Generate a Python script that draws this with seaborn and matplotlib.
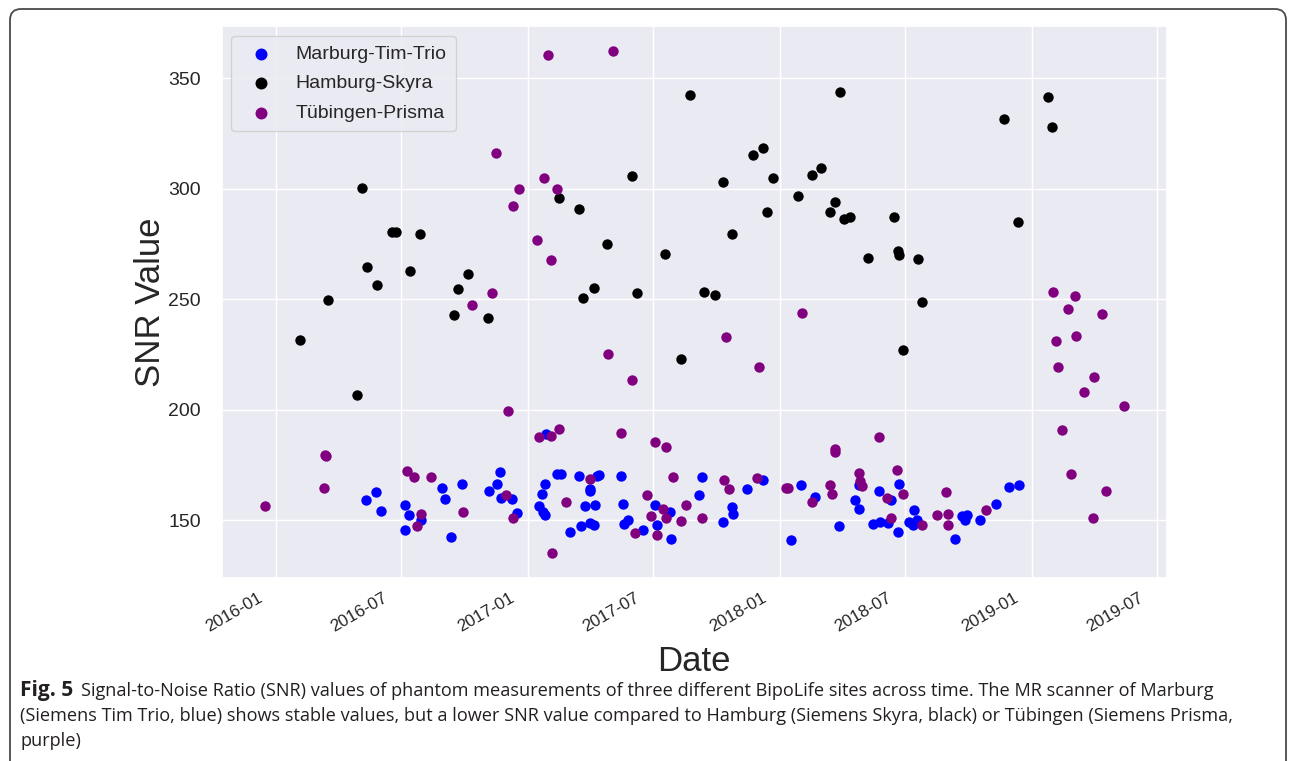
import numpy as np
import pandas as pd
import matplotlib
matplotlib.use("Agg")
import matplotlib.pyplot as plt
import matplotlib.dates as mdates
from matplotlib.patches import FancyBboxPatch
from matplotlib.transforms import IdentityTransform, ScaledTranslation
import seaborn as sns

# ---------------- data ----------------
site_names = ["Marburg-Tim-Trio", "Hamburg-Skyra", "Tübingen-Prisma"]
site_colors = ["blue", "black", "purple"]

marburg_dates = [
    "2016-05-11", "2016-05-26", "2016-06-01", "2016-07-07", "2016-07-12", "2016-07-06", "2016-07-29",
    "2016-08-29", "2016-09-03", "2016-09-27", "2016-09-11", "2016-11-05", "2016-11-16", "2016-11-21",
    "2016-11-23", "2016-12-08", "2016-12-16", "2017-01-27", "2017-02-11", "2017-02-17", "2017-01-26",
    "2017-01-21", "2017-01-17", "2017-01-22", "2017-01-26", "2017-03-16", "2017-03-02", "2017-03-18",
    "2017-03-31", "2017-04-01", "2017-03-24", "2017-04-08", "2017-04-10", "2017-04-14", "2017-04-01",
    "2017-04-06", "2017-05-16", "2017-05-18", "2017-05-20", "2017-05-25", "2017-06-16", "2017-07-04",
    "2017-07-07", "2017-07-26", "2017-07-27", "2017-09-06", "2017-09-10", "2017-10-10", "2017-10-24",
    "2017-10-25", "2017-11-14", "2017-12-07", "2018-01-17", "2018-01-31", "2018-02-21", "2018-03-27",
    "2018-04-19", "2018-04-25", "2018-04-26", "2018-05-24", "2018-06-22", "2018-06-10", "2018-05-15",
    "2018-05-26", "2018-06-07", "2018-06-21", "2018-07-07", "2018-07-12", "2018-07-18", "2018-07-14",
    "2018-09-12", "2018-09-21", "2018-09-29", "2018-09-26", "2018-10-18", "2018-11-10", "2018-11-28",
    "2018-12-13",
]
marburg_snr = [
    159.1, 162.8, 154.4, 157.1, 152.3, 145.5, 150.3, 164.6, 159.5, 166.5,
    142.5, 163.4, 166.5, 171.8, 160.1, 159.5, 153.3, 189.1, 171.1, 171.1,
    166.5, 162.0, 156.5, 153.8, 152.3, 170.3, 144.8, 147.5, 164.3, 163.5,
    156.3, 156.8, 170.3, 170.6, 148.8, 148.1, 170.3, 157.5, 148.5, 150.0,
    145.5, 157.1, 147.8, 153.8, 141.7, 161.6, 169.8, 149.3, 156.0, 153.0,
    164.0, 168.4, 141.0, 165.8, 160.8, 147.5, 159.1, 155.3, 166.0, 163.4,
    166.5, 159.1, 148.5, 149.3, 149.0, 144.8, 149.5, 148.1, 150.3, 154.5,
    141.7, 151.8, 152.6, 150.0, 150.0, 157.5, 165.1, 165.8,
]

hamburg_dates = [
    "2016-02-05", "2016-03-17", "2016-04-28", "2016-05-05", "2016-05-13", "2016-05-27", "2016-06-17",
    "2016-06-23", "2016-07-13", "2016-07-28", "2016-09-15", "2016-09-21", "2016-10-05", "2016-11-03",
    "2017-02-15", "2017-03-16", "2017-03-22", "2017-04-06", "2017-04-25", "2017-05-31", "2017-06-08",
    "2017-07-18", "2017-08-10", "2017-08-23", "2017-09-13", "2017-09-28", "2017-10-10", "2017-10-24",
    "2017-11-22", "2017-12-07", "2017-12-13", "2017-12-21", "2018-01-27", "2018-02-16", "2018-03-01",
    "2018-03-15", "2018-03-21", "2018-03-29", "2018-04-04", "2018-04-13", "2018-05-09", "2018-06-15",
    "2018-06-21", "2018-06-22", "2018-06-28", "2018-07-20", "2018-07-26", "2018-11-22", "2018-12-12",
    "2019-01-24", "2019-01-30",
]
hamburg_snr = [
    231.6, 249.5, 206.7, 300.3, 264.7, 256.4, 280.6, 280.6, 262.9, 279.3,
    242.7, 254.6, 261.5, 241.7, 295.8, 290.8, 250.7, 255.2, 274.9, 305.5,
    252.7, 270.4, 223.2, 342.4, 253.2, 252.1, 302.8, 279.3, 315.0, 318.3,
    289.5, 304.8, 296.5, 306.2, 309.3, 289.5, 294.0, 343.7, 286.5, 287.1,
    268.6, 287.1, 272.0, 270.2, 227.1, 268.0, 248.7, 331.6, 285.1, 341.6,
    327.8,
]

tuebingen_dates = [
    "2015-12-16", "2016-03-13", "2016-03-14", "2016-03-11", "2016-07-09", "2016-07-20", "2016-08-13",
    "2016-07-30", "2016-07-24", "2016-09-29", "2016-10-11", "2016-11-09", "2016-11-15", "2016-11-30",
    "2016-12-03", "2016-12-10", "2016-12-10", "2016-12-18", "2017-01-14", "2017-01-17", "2017-01-24",
    "2017-01-30", "2017-02-03", "2017-02-03", "2017-02-05", "2017-02-12", "2017-02-15", "2017-02-25",
    "2017-04-01", "2017-04-27", "2017-05-04", "2017-05-16", "2017-05-31", "2017-06-04", "2017-06-22",
    "2017-06-28", "2017-07-04", "2017-07-06", "2017-07-15", "2017-07-19", "2017-07-20", "2017-07-30",
    "2017-08-11", "2017-08-18", "2017-09-10", "2017-10-12", "2017-10-15", "2017-10-19", "2017-11-28",
    "2017-12-01", "2018-01-10", "2018-01-13", "2018-02-02", "2018-02-16", "2018-03-15", "2018-03-17",
    "2018-03-21", "2018-03-22", "2018-04-25", "2018-04-27", "2018-04-29", "2018-05-24", "2018-06-19",
    "2018-06-28", "2018-06-05", "2018-06-10", "2018-07-26", "2018-08-30", "2018-08-17", "2018-09-01",
    "2018-09-02", "2018-10-26", "2019-02-01", "2019-02-05", "2019-02-07", "2019-02-13", "2019-02-22",
    "2019-02-26", "2019-03-04", "2019-03-06", "2019-03-18", "2019-03-31", "2019-04-01", "2019-04-12",
    "2019-04-18", "2019-05-14",
]
tuebingen_snr = [
    156.3, 179.5, 178.9, 164.6, 172.3, 169.6, 169.6, 153.0, 147.5, 153.8,
    247.4, 252.7, 316.2, 161.3, 199.6, 292.0, 151.2, 299.7, 276.9, 187.6,
    304.8, 360.3, 267.9, 188.3, 135.3, 299.7, 191.3, 158.3, 168.5, 225.3,
    362.2, 189.5, 213.6, 144.3, 161.3, 151.8, 185.6, 143.6, 155.3, 183.1,
    151.1, 169.6, 149.9, 157.1, 151.2, 168.4, 232.8, 164.0, 169.1, 219.3,
    164.6, 164.6, 243.6, 158.3, 166.1, 162.0, 182.3, 181.1, 171.4, 167.6,
    165.5, 187.6, 172.9, 162.0, 160.1, 151.2, 148.1, 162.8, 152.3, 153.0,
    147.8, 154.5, 253.2, 231.0, 219.3, 190.8, 245.6, 171.1, 251.4, 233.4,
    207.9, 151.2, 214.8, 243.2, 163.3, 201.6,
]

y_ticks = [150, 200, 250, 300, 350]
x_label = "Date"
y_label = "SNR Value"
caption_bold = "Fig. 5"
caption_lines = [
    "Signal-to-Noise Ratio (SNR) values of phantom measurements of three different BipoLife sites across time. The MR scanner of Marburg",
    "(Siemens Tim Trio, blue) shows stable values, but a lower SNR value compared to Hamburg (Siemens Skyra, black) or Tübingen (Siemens Prisma,",
    "purple)",
]

# ---------------- figure ----------------
sns.set_theme(style="darkgrid")
plt.rcParams["font.family"] = ["Liberation Sans", "DejaVu Sans"]

W, H = 1295, 761
fig = plt.figure(figsize=(W / 100, H / 100), dpi=100)
fig.patch.set_facecolor("white")

ax_l, ax_r, ax_t, ax_b = 221.7, 1166.7, 26.0, 578.0
ax_w, ax_h = ax_r - ax_l, ax_b - ax_t
ax = fig.add_axes([ax_l / W, 1 - ax_b / H, ax_w / W, ax_h / H])

all_dates = [marburg_dates, hamburg_dates, tuebingen_dates]
all_snr = [marburg_snr, hamburg_snr, tuebingen_snr]
for name, col, d, v in zip(site_names, site_colors, all_dates, all_snr):
    df = pd.DataFrame({"Date": pd.to_datetime(d), "SNR": v})
    sns.scatterplot(data=df, x="Date", y="SNR", color=col, s=56, linewidth=0,
                    label=name, legend=False, ax=ax)

ax.set_yticks(y_ticks)
ax.xaxis.set_major_locator(mdates.MonthLocator(bymonth=[1, 7]))
ax.xaxis.set_major_formatter(mdates.DateFormatter("%Y-%m"))
ax.tick_params(axis="y", labelsize=14, pad=9, colors=".15")
ax.tick_params(axis="x", labelsize=12.3, pad=3, colors=".15")

ax.set_xlabel(x_label, fontsize=25, color=".15")
ax.set_ylabel(y_label, fontsize=25, color=".15")
ax.xaxis.set_label_coords(0.5, (ax_b - 645) / ax_h)
ax.yaxis.set_label_coords((167 - ax_l) / ax_w, 0.5)

leg = ax.legend(loc="upper left", fontsize=14, scatterpoints=1, markerscale=1.15,
                labelspacing=0.6, borderpad=0.5)
for t in leg.get_texts():
    t.set_color(".15")

# rotate date labels and nudge them a little to the left, as in the reference
fig.canvas.draw()
shift = ScaledTranslation(-11 / 100, 0, fig.dpi_scale_trans)
for tick in ax.xaxis.get_major_ticks():
    tick.label1.set_rotation(30)
    tick.label1.set_ha("right")
    tick.label1.set_transform(tick.label1.get_transform() + shift)

# rounded frame around the figure panel (open at the bottom)
frame = FancyBboxPatch((10, -40), 1276, H - 9 + 40, boxstyle="round,pad=0,rounding_size=11",
                       transform=IdentityTransform(), facecolor="none",
                       edgecolor="#4a4a4a", linewidth=1.3, clip_on=False)
fig.add_artist(frame)

# caption
cap_color = "#231f20"
cap_font = ["Open Sans", "DejaVu Sans"]
renderer = fig.canvas.get_renderer()
x0 = 20
base_y = [696, 721, 746]

def place(fs):
    tb = fig.text(x0 / W, 1 - base_y[0] / H, caption_bold, fontsize=fs * 1.15, fontweight="bold",
                  family=cap_font, color=cap_color, va="baseline", ha="left")
    bb = tb.get_window_extent(renderer)
    t1 = fig.text((bb.x1 + 0.6 * fs) / W, 1 - base_y[0] / H, caption_lines[0], fontsize=fs,
                  family=cap_font, color=cap_color, va="baseline", ha="left")
    arts = [tb, t1]
    for line, yy in zip(caption_lines[1:], base_y[1:]):
        arts.append(fig.text(x0 / W, 1 - yy / H, line, fontsize=fs, family=cap_font,
                             color=cap_color, va="baseline", ha="left"))
    return arts

fs = 11.0
for _ in range(3):
    arts = place(fs)
    right = arts[1].get_window_extent(renderer).x1
    left = arts[0].get_window_extent(renderer).x0
    fs = fs * (1217 - left) / (right - left)
    for a in arts:
        a.remove()
arts = place(fs)

fig.savefig("out.png", dpi=100)
